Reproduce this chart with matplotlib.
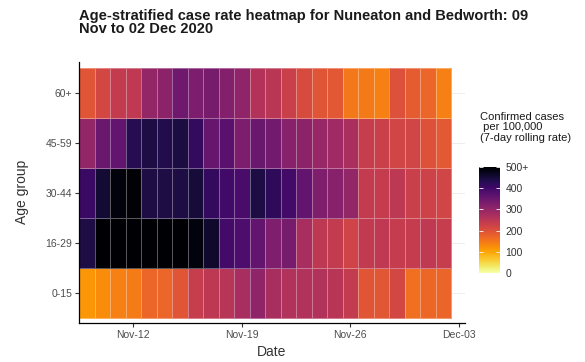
import matplotlib
matplotlib.use("Agg")
import matplotlib.pyplot as plt
import matplotlib.dates as mdates
import numpy as np
import pandas as pd
from matplotlib.colors import Normalize

plt.rcParams['font.family'] = ['Liberation Sans', 'DejaVu Sans']

dates = pd.date_range("2020-11-09", "2020-12-02", freq="D")
age_groups = ["0-15", "16-29", "30-44", "45-59", "60+"]

rate_0_15 = [115, 125, 140, 145, 170, 170, 195, 235, 248, 255, 275, 305,
             275, 262, 262, 262, 252, 240, 195, 192, 215, 160, 168, 172]
rate_16_29 = [440, 520, 530, 535, 530, 525, 520, 490, 460, 398, 385, 360,
              325, 335, 275, 248, 240, 222, 242, 246, 237, 237, 245, 235]
rate_30_44 = [410, 455, 490, 495, 440, 440, 440, 450, 415, 400, 390, 440,
              420, 398, 360, 325, 315, 300, 240, 237, 248, 230, 225, 220]
rate_45_59 = [300, 350, 360, 430, 440, 435, 445, 415, 355, 370, 330, 350,
              340, 315, 310, 295, 285, 270, 235, 230, 220, 220, 200, 188]
rate_60p = [195, 215, 240, 245, 300, 310, 345, 330, 335, 320, 305, 260,
            250, 230, 210, 195, 190, 150, 148, 140, 200, 185, 170, 140]

colorbar_ticks = [0, 100, 200, 300, 400, 500]
colorbar_labels = ["0", "100", "200", "300", "400", "500+"]
xtick_dates = pd.to_datetime(["2020-11-12", "2020-11-19", "2020-11-26", "2020-12-03"])

Z = np.array([rate_0_15, rate_16_29, rate_30_44, rate_45_59, rate_60p], dtype=float)
Z = np.clip(Z, 0, 500)

fig = plt.figure(figsize=(5.85, 3.62), dpi=100)
ax = fig.add_axes([79/585, 1 - 322.7/362, (465-79)/585, (322.7-62)/362])

x0 = mdates.date2num(dates[0])
xedges = x0 + np.arange(len(dates) + 1) - 0.5
yedges = np.arange(len(age_groups) + 1) + 0.5

cmap = plt.get_cmap("inferno_r")
norm = Normalize(0, 500)

for i in range(1, len(age_groups) + 1):
    ax.axhline(i, color="#EBEBEB", lw=0.6, zorder=0)

ax.pcolormesh(xedges, yedges, Z, cmap=cmap, norm=norm,
              edgecolors=(1, 1, 1, 0.35), linewidth=0.5, zorder=1)

ax.set_xlim(x0 - 0.5, x0 + 24.4)
ax.set_ylim(0.4, 5.62)
ax.set_yticks(range(1, len(age_groups) + 1))
ax.set_yticklabels(age_groups)
ax.set_xticks(mdates.date2num(xtick_dates))
ax.set_xticklabels([d.strftime("%b-%d") for d in xtick_dates])

for s in ["top", "right"]:
    ax.spines[s].set_visible(False)
for s in ["left", "bottom"]:
    ax.spines[s].set_linewidth(0.9)
    ax.spines[s].set_color("black")
ax.tick_params(axis="both", labelsize=7.5, labelcolor="#4D4D4D",
               color="#333333", length=3, width=0.8, pad=2)

ax.set_xlabel("Date", fontsize=10, color="#333333", labelpad=4)
ax.set_ylabel("Age group", fontsize=10, color="#333333", labelpad=12)

fig.text(79/585, 1 - 9/362,
         "Age-stratified case rate heatmap for Nuneaton and Bedworth: 09\nNov to 02 Dec 2020",
         fontsize=10.5, fontweight="bold", ha="left", va="top",
         linespacing=0.95, color="#1a1a1a")

cax = fig.add_axes([479/585, 1 - 273/362, 21/585, (273-167)/362])
sm = matplotlib.cm.ScalarMappable(norm=norm, cmap=cmap)
cb = fig.colorbar(sm, cax=cax, ticks=colorbar_ticks)
cb.set_ticklabels(colorbar_labels)
cb.outline.set_visible(False)
cax.tick_params(axis="y", direction="in", color="white", length=3, width=0.6,
                left=True, right=True, labelsize=7.5, labelcolor="#333333", pad=4)

fig.text(480/585, 1 - 112/362,
         "Confirmed cases\n per 100,000\n(7-day rolling rate)",
         fontsize=8, ha="left", va="top", linespacing=1.05, color="#1a1a1a")

fig.savefig("out.png", dpi=100)
